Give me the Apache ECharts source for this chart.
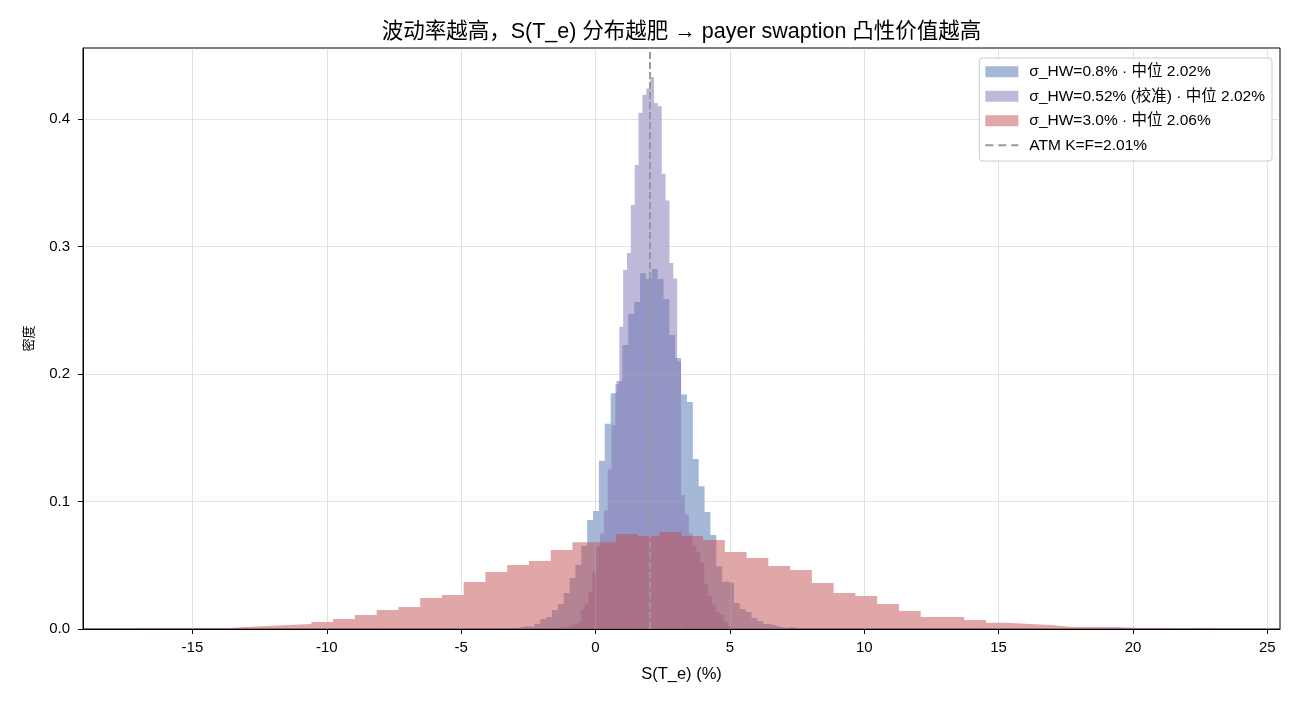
<!DOCTYPE html>
<html><head><meta charset="utf-8">
<script src="https://cdn.jsdelivr.net/npm/echarts@6/dist/echarts.min.js"></script>
<style>html,body{margin:0;padding:0;background:#fff}#c{width:1300px;height:702px}</style>
</head><body><div id="c"></div>
<script>
// ---- data ----
const TITLE = '波动率越高，S(T_e) 分布越肥 → payer swaption 凸性价值越高';
const X_LABEL = 'S(T_e) (%)';
const Y_LABEL = '密度';
const X_TICKS = [-15, -10, -5, 0, 5, 10, 15, 20, 25];
const Y_TICKS = [0, 0.1, 0.2, 0.3, 0.4];
const X_RANGE = [-19.07, 25.47];
const Y_RANGE = [0, 0.4557];
const ATM_K = 2.01;
const SERIES_NAMES = ['σ_HW=0.8% · 中位 2.02%', 'σ_HW=0.52% (校准) · 中位 2.02%', 'σ_HW=3.0% · 中位 2.06%', 'ATM K=F=2.01%'];

// σ_HW = 0.8% : histogram (left edge of first bin, bin width, densities)
const LOW_START = -3.367, LOW_WIDTH = 0.2184;
const LOW_DENS = [0.0008,0.0008,0.0016,0.0024,0.0016,0.0039,0.0078,0.0094,0.0149,0.0196,
  0.0282,0.040,0.0502,0.0651,0.0855,0.0925,0.132,0.161,0.185,0.1945,
  0.2227,0.247,0.2565,0.279,0.2745,0.2824,0.2745,0.2588,0.2306,0.2125,
  0.184,0.178,0.1333,0.112,0.0918,0.0737,0.049,0.037,0.036,0.0204,
  0.0157,0.0133,0.0086,0.0063,0.0039,0.0031,0.0016,0.0008,0.0016,0.0008];

// σ_HW = 0.52% (calibrated)
const CAL_START = -1.269, CAL_WIDTH = 0.1436;
const CAL_DENS = [0.001,0.002,0.003,0.004,0.0055,0.015,0.020,0.029,0.045,0.065,
  0.075,0.093,0.125,0.16,0.192,0.237,0.2816,0.295,0.3325,0.364,
  0.405,0.419,0.424,0.433,0.4125,0.41,0.357,0.336,0.287,0.275,
  0.21,0.105,0.09,0.075,0.065,0.06,0.052,0.035,0.026,0.019,
  0.0133,0.011,0.0055,0.0024,0.0008,0.0008,0,0,0,0.0008];

// σ_HW = 3.0%
const HIGH_START = -17.05, HIGH_WIDTH = 0.8097;
const HIGH_DENS = [0.0006,0.0006,0.0006,0.0006,0.0016,0.0024,0.0031,0.0039,0.0055,0.0078,
  0.011,0.0149,0.0172,0.0243,0.0267,0.0369,0.0447,0.0502,0.0533,0.062,
  0.068,0.068,0.0745,0.0729,0.076,0.0729,0.0698,0.0604,0.0557,0.0494,
  0.0463,0.0361,0.0282,0.0259,0.0196,0.0141,0.0094,0.0094,0.0071,0.0049,
  0.0039,0.0031,0.0016,0.0016,0.0016,0.0008,0.0008,0,0.0008,0.0008];

// ---- build ----
const FONT = "'Liberation Sans', 'Noto Sans CJK SC', sans-serif";
const COLORS = ['rgba(76,114,176,0.5)', 'rgba(129,114,179,0.5)', 'rgba(196,78,82,0.5)', '#999999'];

function stepPoints(start, width, dens) {
  const pts = dens.map((d, i) => [start + i * width, d]);
  pts.push([start + dens.length * width, dens[dens.length - 1]]);
  return pts;
}
function histSeries(name, color, start, width, dens, z) {
  return {
    type: 'line', name: name, step: 'end', z: z,
    data: stepPoints(start, width, dens),
    symbol: 'none', showSymbol: false, smooth: false,
    lineStyle: {width: 0, opacity: 0},
    itemStyle: {color: color},
    areaStyle: {color: color, opacity: 1},
    emphasis: {disabled: true}, silent: true, clip: true
  };
}

const chart = echarts.init(document.getElementById('c'), null, {renderer: 'canvas'});
const option = {
  animation: false,
  backgroundColor: '#ffffff',
  textStyle: {fontFamily: FONT},
  title: {
    text: TITLE, left: 681.5, top: 21, textAlign: 'center', padding: 0,
    textStyle: {fontSize: 21.5, fontWeight: 'normal', color: '#000', fontFamily: FONT}
  },
  grid: {left: 83, right: 20, top: 48, bottom: 73, show: true, borderColor: '#000', borderWidth: 1, backgroundColor: 'transparent'},
  legend: {
    orient: 'vertical', right: 28, top: 58, z: 10,
    itemWidth: 33, itemHeight: 11, itemGap: 9,
    padding: [6, 7, 8, 6],
    borderColor: '#cccccc', borderWidth: 1, borderRadius: 3,
    backgroundColor: 'rgba(255,255,255,0.85)',
    selectedMode: false,
    textStyle: {fontSize: 15.5, color: '#000', fontFamily: FONT, padding: [0, 0, 0, 6]},
    data: [
      {name: SERIES_NAMES[0], icon: 'rect', itemStyle: {color: COLORS[0]}},
      {name: SERIES_NAMES[1], icon: 'rect', itemStyle: {color: COLORS[1]}},
      {name: SERIES_NAMES[2], icon: 'rect', itemStyle: {color: COLORS[2]}},
      {name: SERIES_NAMES[3], icon: 'path://M0,0L0.01,0L0,0.01Z M0,4.5h8v2h-8Z M13,4.5h8v2h-8Z M26,4.5h7v2h-7Z M33,11L32.99,11L33,10.99Z', itemStyle: {color: COLORS[3]}}
    ]
  },
  xAxis: {
    type: 'value', min: X_RANGE[0], max: X_RANGE[1], z: 5,
    axisLine: {show: true, onZero: false, lineStyle: {color: '#000', width: 1}},
    axisTick: {show: true, customValues: X_TICKS, length: 5, lineStyle: {color: '#000', width: 1}},
    axisLabel: {customValues: X_TICKS, margin: 11, fontSize: 15, color: '#000', fontFamily: FONT,
      formatter: v => String(v)},
    splitLine: {show: true, lineStyle: {color: 'rgba(176,176,176,0.45)', width: 0.8}},
    name: X_LABEL, nameLocation: 'middle', nameGap: 37,
    nameTextStyle: {fontSize: 16.5, color: '#000', fontFamily: FONT}
  },
  yAxis: {
    type: 'value', min: Y_RANGE[0], max: Y_RANGE[1], z: 5,
    axisLine: {show: true, onZero: false, lineStyle: {color: '#000', width: 1}},
    axisTick: {show: true, customValues: Y_TICKS, length: 5, lineStyle: {color: '#000', width: 1}},
    axisLabel: {customValues: Y_TICKS, margin: 13, fontSize: 15, color: '#000', fontFamily: FONT,
      formatter: v => v.toFixed(1)},
    splitLine: {show: true, lineStyle: {color: 'rgba(176,176,176,0.45)', width: 0.8}},
    name: Y_LABEL, nameLocation: 'middle', nameGap: 47, nameRotate: 90,
    nameTextStyle: {fontSize: 13, color: '#000', fontFamily: FONT}
  },
  series: [
    histSeries(SERIES_NAMES[0], COLORS[0], LOW_START, LOW_WIDTH, LOW_DENS, 2),
    histSeries(SERIES_NAMES[1], COLORS[1], CAL_START, CAL_WIDTH, CAL_DENS, 2),
    histSeries(SERIES_NAMES[2], COLORS[2], HIGH_START, HIGH_WIDTH, HIGH_DENS, 2),
    {
      type: 'line', name: SERIES_NAMES[3], data: [], symbol: 'none', z: 3,
      lineStyle: {color: COLORS[3], width: 2, type: [7, 3]},
      itemStyle: {color: COLORS[3]},
      markLine: {
        silent: true, symbol: ['none', 'none'], label: {show: false},
        lineStyle: {color: COLORS[3], width: 2, type: [7, 3]},
        emphasis: {disabled: true},
        data: [{xAxis: ATM_K}]
      }
    }
  ]
};
chart.setOption(option);
</script>
</body></html>
